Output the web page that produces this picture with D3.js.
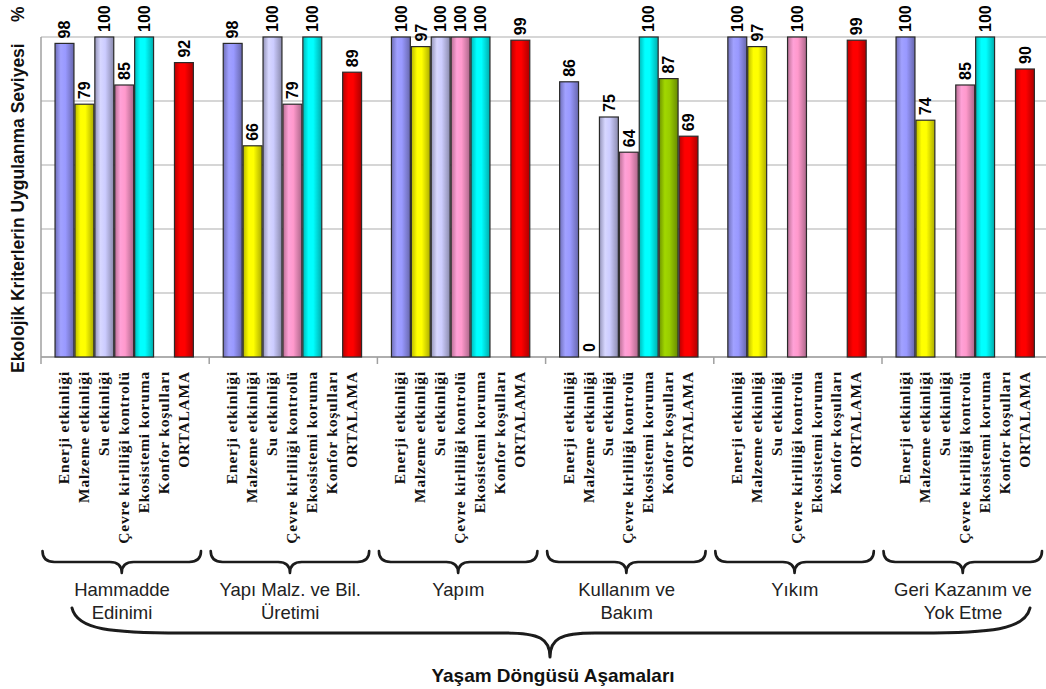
<!DOCTYPE html>
<html>
<head>
<meta charset="utf-8">
<script src="https://cdn.jsdelivr.net/npm/d3@7/dist/d3.min.js"></script>
<style>
  html, body { margin: 0; padding: 0; background: #fff; }
  svg { display: block; }
</style>
</head>
<body>
<svg id="chart" width="1046" height="689"></svg>
<script>
// Life-cycle stages (x groups) and their two-line captions
const stages = ["Hammadde Edinimi", "Yapı Malz. ve Bil. Üretimi", "Yapım", "Kullanım ve Bakım", "Yıkım", "Geri Kazanım ve Yok Etme"];
const stageLines = [["Hammadde", "Edinimi"], ["Yapı Malz. ve Bil.", "Üretimi"], ["Yapım"], ["Kullanım ve", "Bakım"], ["Yıkım"], ["Geri Kazanım ve", "Yok Etme"]];

// Ecological criteria (bars inside each group)
const criteria = ["Enerji etkinliği", "Malzeme etkinliği", "Su etkinliği", "Çevre kirliliği kontrolü", "Ekosistemi koruma", "Konfor koşulları", "ORTALAMA"];

// Application level (%) per criterion, one value per stage (null = not applicable)
const enerji    = [98, 98, 100, 86, 100, 100];
const malzeme   = [79, 66, 97, 0, 97, 74];
const su        = [100, 100, 100, 75, null, null];
const cevre     = [85, 79, 100, 64, 100, 85];
const ekosistem = [100, 100, 100, 100, null, 100];
const konfor    = [null, null, null, 87, null, null];
const ortalama  = [92, 89, 99, 69, 99, 90];

const yTicks = [0, 20, 40, 60, 80, 100];
const colors = ["#9999FF", "#FFFF00", "#CCCCFF", "#FF99CC", "#00FFFF", "#99CC00", "#FF0000"];

const yTitle = "Ekolojik Kriterlerin Uygulanma Seviyesi";
const xTitle = "Yaşam Döngüsü Aşamaları";

const seriesValues = [enerji, malzeme, su, cevre, ekosistem, konfor, ortalama];

const svg = d3.select("#chart");
const plot = { left: 41, top: 37, bottom: 357, groupW: 168.2 };

const x0 = d3.scaleBand().domain(stages)
  .range([plot.left, plot.left + plot.groupW * stages.length]).padding(0);
const x1 = d3.scaleBand().domain(criteria)
  .range([0, x0.bandwidth()]).paddingInner(0.05).paddingOuter(0.75).align(0.47);
const y = d3.scaleLinear().domain([0, 100]).range([plot.bottom, plot.top]);

// Bar shading: darker edges, lighter middle
const defs = svg.append("defs");
colors.forEach((c, i) => {
  const g = defs.append("linearGradient").attr("id", "grad" + i)
    .attr("x1", "0%").attr("x2", "100%").attr("y1", "0%").attr("y2", "0%");
  const base = d3.color(c);
  g.append("stop").attr("offset", "0%").attr("stop-color", base.darker(0.9));
  g.append("stop").attr("offset", "30%").attr("stop-color", base.brighter(0.15));
  g.append("stop").attr("offset", "55%").attr("stop-color", base);
  g.append("stop").attr("offset", "100%").attr("stop-color", base.darker(1.1));
});
const blur = defs.append("filter").attr("id", "soft");
blur.append("feGaussianBlur").attr("stdDeviation", 0.6);

// Gridlines
svg.append("g").selectAll("line").data(yTicks).join("line")
  .attr("x1", plot.left).attr("x2", 1046)
  .attr("y1", d => y(d)).attr("y2", d => y(d))
  .attr("stroke", "#c8c8c8").attr("stroke-width", 1.5);

// Axes lines
svg.append("line").attr("x1", plot.left).attr("x2", plot.left)
  .attr("y1", y(100)).attr("y2", y(0)).attr("stroke", "#a0a0a0").attr("stroke-width", 1.5);
svg.append("line").attr("x1", plot.left).attr("x2", 1046)
  .attr("y1", y(0)).attr("y2", y(0)).attr("stroke", "#a0a0a0").attr("stroke-width", 1.5);

// Group separator ticks
svg.append("g").selectAll("line").data(stages).join("line")
  .attr("x1", d => x0(d)).attr("x2", d => x0(d))
  .attr("y1", y(0)).attr("y2", y(0) + 7)
  .attr("stroke", "#a0a0a0").attr("stroke-width", 1.5);

// Bars and value labels
const cells = [];
stages.forEach((s, si) => {
  criteria.forEach((c, ci) => {
    const v = seriesValues[ci][si];
    if (v !== null) cells.push({ stage: s, crit: c, ci, v });
  });
});

const gBars = svg.append("g");
gBars.selectAll("rect").data(cells.filter(d => d.v > 0)).join("rect")
  .attr("x", d => x0(d.stage) + x1(d.crit))
  .attr("y", d => y(d.v))
  .attr("width", x1.bandwidth())
  .attr("height", d => y(0) - y(d.v))
  .attr("fill", d => `url(#grad${d.ci})`)
  .attr("stroke", "#2a2a2a").attr("stroke-width", 1.2);

gBars.selectAll("text").data(cells).join("text")
  .attr("transform", d => `translate(${x0(d.stage) + x1(d.crit) + x1.bandwidth() / 2},${y(d.v) - 5}) rotate(-90)`)
  .attr("dy", "0.36em")
  .attr("text-anchor", "start")
  .attr("font-family", "Liberation Sans, Arial, sans-serif")
  .attr("font-weight", "bold")
  .attr("font-size", 16)
  .attr("fill", "#000")
  .text(d => d.v);

// Criterion names under each group
const gLabels = svg.append("g");
stages.forEach(s => {
  gLabels.selectAll(null).data(criteria).join("text")
    .attr("transform", c => `translate(${x0(s) + x1(c) + x1.bandwidth() / 2 - 1},${y(0) + 14}) rotate(-90)`)
    .attr("dy", "0.36em")
    .attr("text-anchor", "end")
    .attr("font-family", "Liberation Serif, Times New Roman, serif")
    .attr("font-weight", "bold")
    .attr("font-size", 15.5)
    .attr("letter-spacing", 0.8)
    .attr("fill", "#111")
    .text(c => c);
});

// Small braces under each group
function brace(xa, xb, yTop, yMid, yTip, r) {
  const xm = (xa + xb) / 2;
  return `M${xa},${yTop} Q${xa},${yMid} ${xa + r},${yMid} L${xm - r},${yMid} Q${xm},${yMid} ${xm},${yTip}` +
         ` Q${xm},${yMid} ${xm + r},${yMid} L${xb - r},${yMid} Q${xb},${yMid} ${xb},${yTop}`;
}
svg.append("g").attr("filter", "url(#soft)").selectAll("path").data(stages).join("path")
  .attr("d", s => brace(x0(s) + 1.5, x0(s) + 160, 551, 562, 573, 12))
  .attr("fill", "none").attr("stroke", "#1a1a1a").attr("stroke-width", 2.6)
  .attr("stroke-linejoin", "round").attr("stroke-linecap", "round");

// Stage captions
const gStage = svg.append("g");
stages.forEach((s, i) => {
  gStage.append("text")
    .attr("x", x0(s) + 81)
    .attr("y", 596)
    .attr("text-anchor", "middle")
    .attr("font-family", "Liberation Sans, Arial, sans-serif")
    .attr("font-size", 18.5)
    .attr("fill", "#222")
    .selectAll("tspan").data(stageLines[i]).join("tspan")
    .attr("x", x0(s) + 81)
    .attr("dy", (d, k) => k === 0 ? 0 : 23)
    .text(d => d);
});

// Large brace spanning all stages
const bx0 = 72, bx1 = 1030, bxm = 550, bTop = 608, bMid = 633, bTip = 657;
const bigBrace = `M${bx0},${bTop} C${bx0 + 5},${bMid - 3} ${bx0 + 40},${bMid} ${bx0 + 110},${bMid}` +
  ` L${bxm - 45},${bMid} C${bxm - 10},${bMid} ${bxm},${bMid + 6} ${bxm},${bTip}` +
  ` C${bxm},${bMid + 6} ${bxm + 10},${bMid} ${bxm + 45},${bMid}` +
  ` L${bx1 - 110},${bMid} C${bx1 - 40},${bMid} ${bx1 - 5},${bMid - 3} ${bx1},${bTop}`;
svg.append("path").attr("d", bigBrace).attr("filter", "url(#soft)")
  .attr("fill", "none").attr("stroke", "#1a1a1a").attr("stroke-width", 3)
  .attr("stroke-linecap", "round").attr("stroke-linejoin", "round");

// Axis titles
svg.append("text")
  .attr("x", 553).attr("y", 682)
  .attr("text-anchor", "middle")
  .attr("font-family", "Liberation Sans, Arial, sans-serif")
  .attr("font-weight", "bold").attr("font-size", 19)
  .attr("fill", "#111")
  .text(xTitle);

svg.append("text")
  .attr("transform", `translate(24,373) rotate(-90)`)
  .attr("text-anchor", "start")
  .attr("font-family", "Liberation Sans, Arial, sans-serif")
  .attr("font-weight", "bold").attr("font-size", 17.5)
  .attr("fill", "#111")
  .text(yTitle);
svg.append("text")
  .attr("transform", `translate(24,22) rotate(-90)`)
  .attr("text-anchor", "start")
  .attr("font-family", "Liberation Sans, Arial, sans-serif")
  .attr("font-weight", "bold").attr("font-size", 17.5)
  .attr("fill", "#111")
  .text("%");
</script>
</body>
</html>
